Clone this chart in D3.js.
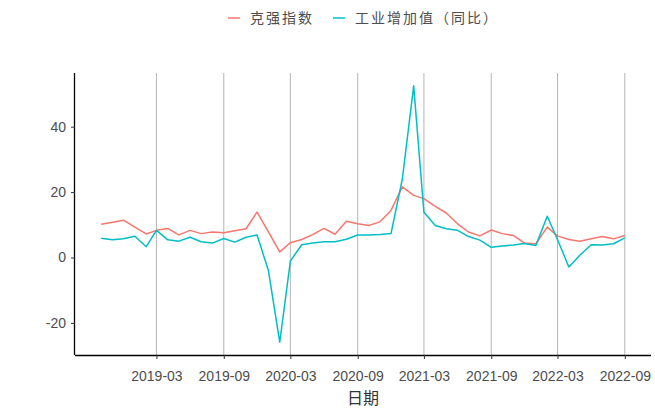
<!DOCTYPE html>
<html><head><meta charset="utf-8">
<script src="https://cdn.jsdelivr.net/npm/d3@7"></script>
<style>
html,body{margin:0;padding:0;background:#fff;}
svg{display:block;}
</style></head>
<body><svg id="chart" width="655" height="409"></svg>
<script>
const dates = ["2018-10","2018-11","2018-12",
"2019-01","2019-02","2019-03","2019-04","2019-05","2019-06","2019-07","2019-08","2019-09","2019-10","2019-11","2019-12",
"2020-01","2020-02","2020-03","2020-04","2020-05","2020-06","2020-07","2020-08","2020-09","2020-10","2020-11","2020-12",
"2021-01","2021-02","2021-03","2021-04","2021-05","2021-06","2021-07","2021-08","2021-09","2021-10","2021-11","2021-12",
"2022-01","2022-02","2022-03","2022-04","2022-05","2022-06","2022-07","2022-08","2022-09"];
const keqiang = [10.2,10.8,11.4,
9.3,7.2,8.3,8.9,6.9,8.3,7.3,7.8,7.6,8.2,8.8,13.9,
7.8,1.7,4.5,5.5,7.0,8.9,7.1,11.1,10.3,9.8,10.9,14.4,
21.6,19.0,18.0,15.6,13.6,10.3,7.8,6.6,8.4,7.3,6.7,4.4,
4.2,9.3,6.6,5.5,5.0,5.7,6.4,5.7,6.7];
const industry = [5.9,5.4,5.7,
6.5,3.3,8.3,5.4,5.0,6.2,4.8,4.4,5.8,4.7,6.2,6.9,
-4.0,-25.9,-1.1,3.9,4.4,4.8,4.8,5.6,6.9,6.9,7.0,7.3,
24.0,52.5,13.8,9.8,8.8,8.3,6.4,5.3,3.1,3.5,3.8,4.3,
3.7,12.6,5.5,-2.9,0.7,3.9,3.8,4.2,6.0];
const seriesNames = ["克强指数","工业增加值（同比）"];
const seriesColors = ["#F8766D","#00BFC4"];
const xTickLabels = ["2019-03","2019-09","2020-03","2020-09","2021-03","2021-09","2022-03","2022-09"];
const yTicks = [-20,0,20,40];
const xTitle = "日期";

const parse = d3.timeParse("%Y-%m");
const fmt = d3.timeFormat("%Y-%m");
const dd = dates.map(parse);
const series = [keqiang, industry].map((vals,i)=>({name:seriesNames[i],color:seriesColors[i],
  pts: vals.map((v,j)=>({d:dd[j],v}))}));

const L=75,R=651,T=73,B=355;
const svg = d3.select("#chart");

const xe = d3.extent(dd); const xspan = xe[1]-xe[0];
const x = d3.scaleTime().domain([new Date(+xe[0]-xspan*0.05), new Date(+xe[1]+xspan*0.05)]).range([L,R]);
const allv = keqiang.concat(industry);
const ye = d3.extent(allv); const yspan = ye[1]-ye[0];
const y = d3.scaleLinear().domain([ye[0]-yspan*0.05, ye[1]+yspan*0.05]).range([B,T]);

const xTickDates = xTickLabels.map(parse);

// vertical gridlines
svg.append("g").selectAll("line").data(xTickDates).join("line")
  .attr("x1",d=>x(d)).attr("x2",d=>x(d)).attr("y1",T).attr("y2",B)
  .attr("stroke","#b5b5b5").attr("stroke-width",1);

// lines
const line = d3.line().x(p=>x(p.d)).y(p=>y(p.v));
svg.append("g").selectAll("path").data(series).join("path")
  .attr("d",s=>line(s.pts)).attr("fill","none").attr("stroke",s=>s.color)
  .attr("stroke-width",1.5).attr("stroke-linejoin","round");

// axes
const xAxis = d3.axisBottom(x).tickValues(xTickDates).tickFormat(fmt).tickSize(4).tickPadding(12);
const gx = svg.append("g").attr("transform",`translate(0,${B})`).call(xAxis);
gx.select(".domain").attr("stroke","#000").attr("stroke-width",1.3);
gx.selectAll(".tick line").attr("stroke","#333").attr("stroke-width",1);
gx.selectAll(".tick text").attr("fill","#4d4d4d").style("font-family","Liberation Sans, Arial, sans-serif").style("font-size","14px");

const yAxis = d3.axisLeft(y).tickValues(yTicks).tickFormat(d=>String(d)).tickSize(4).tickPadding(5);
const gy = svg.append("g").attr("transform",`translate(${L},0)`).call(yAxis);
gy.select(".domain").attr("stroke","#000").attr("stroke-width",1.3);
gy.selectAll(".tick line").attr("stroke","#333").attr("stroke-width",1);
gy.selectAll(".tick text").attr("fill","#4d4d4d").style("font-family","Liberation Sans, Arial, sans-serif").style("font-size","14px");
gx.select(".domain").attr("d",`M${L},0.5H${R}`);
gy.select(".domain").attr("d",`M-0.5,${T}V${B}`);

// x title
svg.append("text").attr("x",(L+R)/2).attr("y",404).attr("text-anchor","middle")
  .attr("fill","#333").style("font-family","Noto Sans CJK SC, sans-serif").style("font-size","16px").text(xTitle);

// legend
const lg = svg.append("g").attr("transform","translate(0,18)");
const legX = [226, 331];
series.forEach((s,i)=>{
  const g = lg.append("g").attr("transform",`translate(${legX[i]},0)`);
  g.append("line").attr("x1",2).attr("x2",14).attr("y1",0).attr("y2",0).attr("stroke",s.color).attr("stroke-width",1.5);
  g.append("text").attr("x",24).attr("y",5).attr("fill","#4d4d4d")
    .style("font-family","Noto Sans CJK SC, sans-serif").style("font-size","14px").style("letter-spacing","2px").text(s.name);
});
</script></body></html>
